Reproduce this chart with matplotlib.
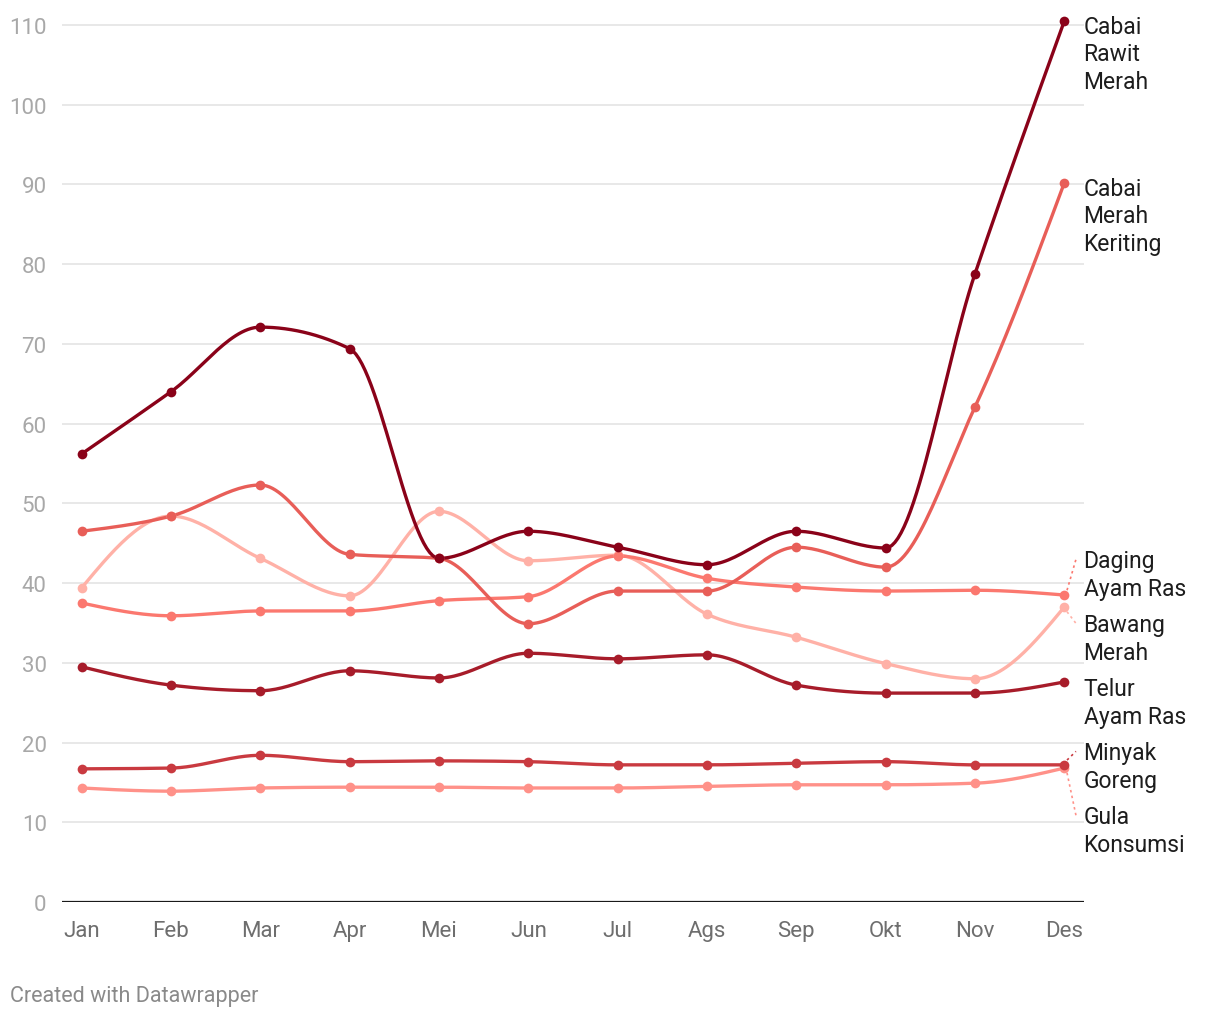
import numpy as np
import matplotlib
matplotlib.use("Agg")
import matplotlib.pyplot as plt

plt.rcParams['font.family'] = ['Roboto', 'DejaVu Sans']

bulan = ['Jan', 'Feb', 'Mar', 'Apr', 'Mei', 'Jun', 'Jul', 'Ags', 'Sep', 'Okt', 'Nov', 'Des']

cabai_rawit = [56.2, 64.0, 72.1, 69.4, 43.1, 46.5, 44.5, 42.3, 46.5, 44.4, 78.8, 110.5]
cabai_keriting = [46.5, 48.4, 52.3, 43.6, 43.1, 34.9, 39.0, 39.0, 44.5, 42.0, 62.1, 90.2]
daging_ayam = [37.5, 35.9, 36.5, 36.5, 37.8, 38.3, 43.4, 40.6, 39.5, 39.0, 39.1, 38.5]
bawang_merah = [39.4, 48.4, 43.1, 38.4, 49.0, 42.8, 43.5, 36.1, 33.2, 29.9, 28.0, 37.0]
telur_ayam = [29.5, 27.2, 26.5, 29.0, 28.1, 31.2, 30.5, 31.0, 27.2, 26.2, 26.2, 27.6]
minyak_goreng = [16.7, 16.8, 18.4, 17.6, 17.7, 17.6, 17.2, 17.2, 17.4, 17.6, 17.2, 17.2]
gula = [14.3, 13.9, 14.3, 14.4, 14.4, 14.3, 14.3, 14.5, 14.7, 14.7, 14.9, 16.8]

# urutan gambar: yang terang dulu, yang gelap di atas
seri = [
    ('Bawang\nMerah', bawang_merah, '#ffb1a7'),
    ('Gula\nKonsumsi', gula, '#ff9189'),
    ('Daging\nAyam Ras', daging_ayam, '#fb786f'),
    ('Cabai\nMerah\nKeriting', cabai_keriting, '#e85e58'),
    ('Minyak\nGoreng', minyak_goreng, '#c93a40'),
    ('Telur\nAyam Ras', telur_ayam, '#a71c2a'),
    ('Cabai\nRawit\nMerah', cabai_rawit, '#8a0219'),
]


def monotone_x(x, y, n=30):
    # kurva monotone seperti d3.curveMonotoneX
    x = np.asarray(x, float)
    y = np.asarray(y, float)
    h = np.diff(x)
    s = np.diff(y) / h
    t = np.zeros(len(x))
    for i in range(1, len(x) - 1):
        p = (s[i-1] * h[i] + s[i] * h[i-1]) / (h[i-1] + h[i])
        t[i] = (np.sign(s[i-1]) + np.sign(s[i])) * min(abs(s[i-1]), abs(s[i]), 0.5 * abs(p))
    t[0] = (3 * s[0] - t[1]) / 2
    t[-1] = (3 * s[-1] - t[-2]) / 2
    xs, ys = [], []
    u = np.linspace(0, 1, n)
    for i in range(len(x) - 1):
        dx = (x[i+1] - x[i]) / 3
        p0 = (x[i], y[i])
        p1 = (x[i] + dx, y[i] + dx * t[i])
        p2 = (x[i+1] - dx, y[i+1] - dx * t[i+1])
        p3 = (x[i+1], y[i+1])
        b0 = (1-u)**3; b1 = 3*(1-u)**2*u; b2 = 3*(1-u)*u**2; b3 = u**3
        xs.append(b0*p0[0] + b1*p1[0] + b2*p2[0] + b3*p3[0])
        ys.append(b0*p0[1] + b1*p1[1] + b2*p2[1] + b3*p3[1])
    return np.concatenate(xs), np.concatenate(ys)


fig = plt.figure(figsize=(12.2, 10.2), dpi=100)
ax = fig.add_axes([62/1220, 1 - 903/1020, (1084-62)/1220, (903-10)/1020])

x = np.arange(len(bulan))
for nama, vals, warna in seri:
    xs, ys = monotone_x(x, vals)
    ax.plot(xs, ys, color=warna, lw=2.4, solid_capstyle='round', zorder=3)
    ax.plot(x, vals, 'o', color=warna, ms=7, mec='none', zorder=4)

ax.set_xlim(-0.22, 11.22)
ax.set_ylim(0, 112)
ax.set_yticks(range(0, 111, 10))
ax.set_xticks(x)
ax.set_xticklabels(bulan)
ax.grid(axis='y', color='#e2e2e2', lw=1.1, zorder=0)
ax.axhline(0, color='#1a1a1a', lw=1.6, zorder=5)
for sp in ax.spines.values():
    sp.set_visible(False)
ax.tick_params(axis='both', length=0)
ax.tick_params(axis='y', labelsize=16, labelcolor='#a8a8a8', pad=11)
ax.tick_params(axis='x', labelsize=16, labelcolor='#6e6e6e', pad=13)

# posisi label kanan, didorong supaya tidak bertabrakan
px_per_unit = 893 / 112
line_h = 28 / px_per_unit
gap = 8 / px_per_unit
lab = sorted(seri, key=lambda s: -s[1][-1])
tinggi = [nama.count('\n') * line_h + line_h for nama, _, _ in lab]
ingin = [v[-1] for _, v, _ in lab]
# cluster: posisi atas tiap label (pusat baris pertama)
cluster = [[i] for i in range(len(lab))]
def posisi(cl):
    pos = {}
    for c in cl:
        offs = [0.0]
        for k in c[1:]:
            offs.append(offs[-1] - tinggi[k-1] - gap)
        shift = np.mean([ingin[k] - o for k, o in zip(c, offs)])
        for k, o in zip(c, offs):
            pos[k] = shift + o
    return pos
while True:
    pos = posisi(cluster)
    gabung = False
    for j in range(len(cluster) - 1):
        a = cluster[j][-1]
        b = cluster[j+1][0]
        if pos[a] - tinggi[a] + line_h / 2 - gap < pos[b] + line_h / 2:
            cluster[j] = cluster[j] + cluster[j+1]
            del cluster[j+1]
            gabung = True
            break
    if not gabung:
        break
pos = posisi(cluster)

for k, (nama, vals, warna) in enumerate(lab):
    ly = pos[k] - 0.5
    ax.text(11.215, ly + line_h * 0.5 - 0.5, nama, ha='left', va='top', fontsize=16.5,
            color='#1d1d1d', linespacing=1.25, clip_on=False)
    if abs(ly - vals[-1]) > 1.5:
        arah = 1 if ly > vals[-1] else -1
        ax.plot([11.03, 11.13], [vals[-1] + arah * 0.6, ly], ls=(0, (1.5, 2)),
                color=warna, lw=1.2, clip_on=False, zorder=2)

fig.text(10/1220, 1 - 997/1020, 'Created with Datawrapper', fontsize=15.5,
         color='#8a8a8a', va='center', ha='left')

fig.savefig('out.png', dpi=100, facecolor='white')
